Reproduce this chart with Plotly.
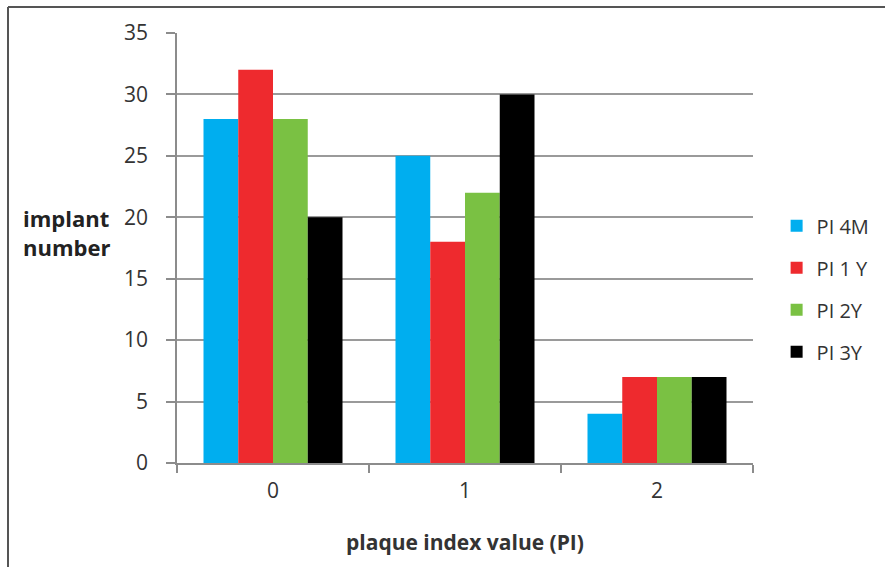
import plotly.graph_objects as go

categories = ["0", "1", "2"]
series_names = ["PI 4M", "PI 1 Y", "PI 2Y", "PI 3Y"]
pi_4m = [28, 25, 4]
pi_1y = [32, 18, 7]
pi_2y = [28, 22, 7]
pi_3y = [20, 30, 7]
colors = ["#00AEEF", "#EE2A2E", "#7AC143", "#000000"]

fig = go.Figure()
for i, (name, vals, c) in enumerate(zip(series_names, [pi_4m, pi_1y, pi_2y, pi_3y], colors)):
    fig.add_trace(go.Bar(x=categories, y=vals, name=name, legendgroup=f"g{i}",
                         marker=dict(color=c, line=dict(width=0))))

font_family = "Open Sans, Noto Sans, sans-serif"
fig.update_layout(
    width=885, height=567,
    margin=dict(l=177, r=132, t=33, b=104, autoexpand=False),
    paper_bgcolor="white", plot_bgcolor="white",
    barmode="group", bargap=0.276, bargroupgap=0,
    font=dict(family=font_family, size=21, color="#333333"),
    showlegend=True,
    legend=dict(x=1.041, y=0.405, xanchor="left", yanchor="middle",
                font=dict(size=20, color="#333333"), tracegroupgap=13,
                itemwidth=30, bgcolor="rgba(0,0,0,0)"),
    xaxis=dict(type="category", showline=True, linecolor="#8c8c8c", linewidth=1.5,
               ticks="outside", tickson="boundaries", ticklen=8, tickcolor="#8c8c8c", tickwidth=1.5,
               showgrid=False, tickfont=dict(size=21, color="#333333"), ticklabelstandoff=8,
               title=dict(text="<b>plaque index value (PI)</b>", font=dict(size=21, color="#333333"), standoff=32)),
    yaxis=dict(range=[0, 35], dtick=5, showline=True, linecolor="#8c8c8c", linewidth=1.5,
               ticks="outside", ticklen=9, tickcolor="#8c8c8c", tickwidth=1.5,
               showgrid=True, gridcolor="#9a9a9a", gridwidth=1.5, zeroline=False,
               tickfont=dict(size=21, color="#333333"), ticklabelstandoff=14),
)

fig.add_annotation(text="<b>implant<br>number</b>", xref="paper", yref="paper",
                   x=-0.113, y=0.535, xanchor="right", yanchor="middle", showarrow=False,
                   align="left", font=dict(size=22, color="#222222"))

# outer frame (left and top edges)
fig.add_shape(type="line", xref="paper", yref="paper", x0=-169/576, x1=(885-177)/576,
              y0=1 + 26/430, y1=1 + 26/430, line=dict(color="#555555", width=2))
fig.add_shape(type="line", xref="paper", yref="paper", x0=-169/576, x1=-169/576,
              y0=1 + 26/430, y1=-104/430, line=dict(color="#555555", width=2))

fig.write_html("out.html")
